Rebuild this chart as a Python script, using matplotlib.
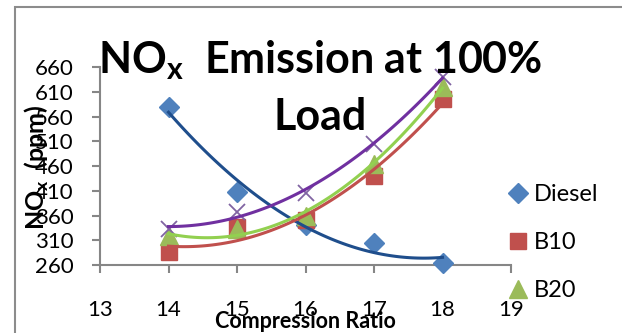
import numpy as np
import matplotlib.pyplot as plt
from matplotlib.patches import Rectangle
from matplotlib.lines import Line2D

plt.rcParams['font.family'] = ['Lato', 'DejaVu Sans']
plt.rcParams['mathtext.fontset'] = 'custom'
plt.rcParams['mathtext.rm'] = 'Lato'
plt.rcParams['mathtext.bf'] = 'Lato:bold'

# data
ratio = [14, 15, 16, 17, 18]
diesel = [580, 408, 340, 305, 265]
b10 = [286, 337, 350, 440, 595]
b20 = [318, 333, 360, 465, 620]
b30 = [333, 368, 406, 504, 640]

xticks = [13, 14, 15, 16, 17, 18, 19]
yticks = [260, 310, 360, 410, 460, 510, 560, 610, 660]

series = [
    ("Diesel", diesel, 'D', 10, '#4F81BD', '#1F4E8C'),
    ("B10", b10, 's', 12, '#C0504D', '#C0504D'),
    ("B20", b20, '^', 13, '#9BBB59', '#92D050'),
    ("B30", b30, 'x', 12, '#8064A2', '#7030A0'),
]

fig = plt.figure(figsize=(6.22, 3.33), dpi=100)
W, H = 622, 333
ax = fig.add_axes([100 / W, 1 - 265 / H, 411 / W, 198 / H])

# outer chart border (right and bottom are cut off)
fig.patches.append(Rectangle((15 / W, -0.1), 1.2, 1 - 7 / H + 0.1, transform=fig.transFigure,
                             fill=False, edgecolor='#8C8C8C', lw=1.5))

xs = np.linspace(14, 18, 100)
handles = []
for name, vals, mk, ms, mc, lc in series:
    if mk == 'x':
        ax.plot(ratio, vals, mk, ms=ms, color=mc, mew=1.3, zorder=3, clip_on=False)
    else:
        ax.plot(ratio, vals, mk, ms=ms, color=mc, mec=mc, zorder=3, clip_on=False)
    coef = np.polyfit(ratio, vals, 2)
    ax.plot(xs, np.polyval(coef, xs), color=lc, lw=2.2, zorder=4, clip_on=False)
    handles.append(Line2D([], [], ls='none', marker=mk, ms=ms, color=mc, label=name))

ax.set_xlim(13, 19)
ax.set_ylim(260, 660)
ax.set_xticks(xticks)
ax.set_yticks(yticks)
for s in ['top', 'right']:
    ax.spines[s].set_visible(False)
for s in ['left', 'bottom']:
    ax.spines[s].set_color('#868686')
    ax.spines[s].set_linewidth(1.5)
ax.tick_params(axis='x', direction='out', length=6, width=1.5, color='#868686',
               labelsize=16, pad=19)
ax.tick_params(axis='y', direction='out', length=6, width=1.5, color='#868686',
               labelsize=16, pad=13)

ax.set_xlabel("Compression Ratio", fontsize=15.5, fontweight='bold', labelpad=-6)
fig.text(37 / W, 1 - 167 / H, r"NO$_\mathbf{x}$  (ppm)", rotation=90, fontsize=18,
         fontweight='bold', ha='center', va='center')

fig.text(320 / W, 1 - 73 / H, r"NO$_\mathbf{x}$  Emission at 100%", fontsize=31,
         fontweight='bold', ha='center', va='baseline')
fig.text(320 / W, 1 - 130 / H, "Load", fontsize=31, fontweight='bold',
         ha='center', va='baseline')

# fourth entry falls below the picture in the original, so only three are shown
fig.legend(handles=handles[:3], loc='upper left', bbox_to_anchor=(506 / W, 1 - 184 / H),
           frameon=False, fontsize=17, handlelength=1.0, handletextpad=0.2,
           borderpad=0, borderaxespad=0, labelspacing=1.15)

fig.savefig('out.png', dpi=100)
